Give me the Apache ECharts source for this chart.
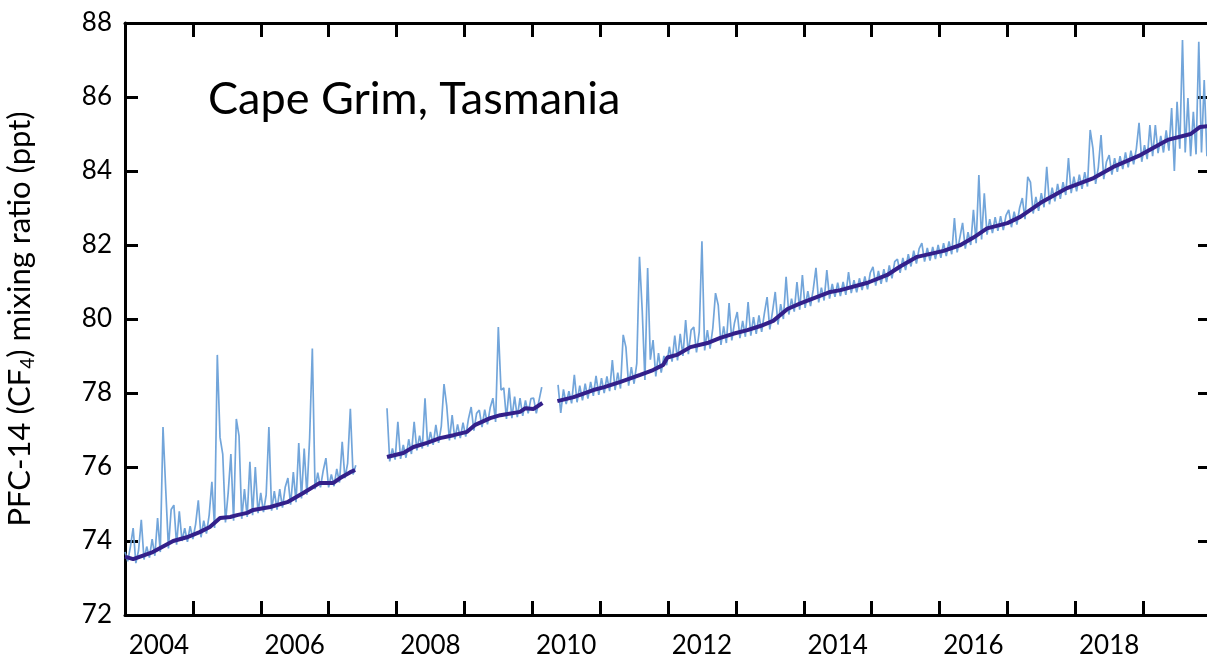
<!DOCTYPE html>
<html>
<head>
<meta charset="utf-8">
<title>PFC-14 Cape Grim</title>
<script src="https://cdn.jsdelivr.net/npm/echarts@6/dist/echarts.min.js"></script>
<style>
  html, body { margin: 0; padding: 0; background: #fff; }
  #chart { width: 1207px; height: 659px; }
</style>
</head>
<body>
<div id="chart"></div>
<script>
// x tick labels (drawn in the middle of each even year)
const yearLabels = ['2004', '2006', '2008', '2010', '2012', '2014', '2016', '2018']

// flask / in situ measurements, sampled every 0.04 yr, three runs with gaps between them
const sampleStep = 0.04
const seg1Start = 2004.00
const seg1Values = [
  73.70, 73.45, 73.85, 74.35, 73.40, 73.75, 74.57, 73.50, 73.85, 73.55,
  74.05, 73.60, 74.62, 73.70, 77.08, 75.40, 73.80, 74.85, 74.97, 73.90,
  74.80, 74.00, 74.35, 73.98, 74.40, 74.05, 74.45, 75.10, 74.10, 74.55,
  74.20, 74.70, 75.60, 74.35, 79.03, 76.80, 76.35, 74.50, 75.30, 76.35,
  74.55, 77.30, 76.84, 74.60, 75.40, 74.65, 76.14, 74.70, 76.00, 74.75,
  75.30, 74.78, 75.25, 77.08, 74.82, 75.35, 74.85, 75.40, 74.90, 75.45,
  75.70, 74.98, 75.86, 75.05, 76.65, 75.15, 76.50, 75.25, 76.78, 79.20,
  75.40, 75.85, 75.45, 75.90, 76.24, 75.45, 75.80, 75.48, 75.95, 75.58,
  76.68, 75.70, 76.10, 77.57, 75.80, 76.05
]
const seg2Start = 2007.86
const seg2Values = [
  77.59, 76.15, 76.50, 76.20, 77.22, 76.22, 76.60, 76.25, 76.75, 76.35,
  77.22, 76.45, 76.85, 76.50, 77.86, 76.55, 76.95, 76.60, 77.14, 76.65,
  77.10, 78.24, 77.65, 76.72, 77.40, 76.75, 77.15, 76.78, 77.20, 76.82,
  77.30, 77.62, 76.98, 77.45, 77.54, 77.08, 77.55, 77.15, 77.60, 77.86,
  77.22, 79.78, 78.08, 78.14, 77.30, 78.14, 77.32, 77.90, 77.35, 77.86,
  77.38, 77.80, 77.45, 77.85, 77.86, 77.45, 77.80, 78.16
]
const seg3Start = 2010.38
const seg3Values = [
  78.22, 77.46, 78.10, 77.70, 78.05, 77.72, 78.49, 77.75, 78.20, 77.80,
  78.25, 77.85, 78.30, 77.92, 78.46, 77.95, 78.40, 78.00, 78.45, 78.05,
  78.89, 78.08, 78.55, 78.12, 79.57, 79.24, 78.20, 78.70, 78.25, 78.80,
  81.68, 80.24, 78.35, 81.38, 78.90, 79.43, 78.45, 79.08, 78.55, 79.00,
  78.75, 79.25, 78.85, 79.55, 78.88, 79.60, 79.00, 79.97, 79.05, 79.70,
  79.78, 79.10, 79.65, 82.10, 79.15, 79.70, 79.20, 79.75, 80.70, 80.38,
  79.30, 79.80, 79.35, 80.43, 79.42, 79.90, 80.19, 79.48, 79.95, 79.52,
  80.46, 79.55, 80.05, 79.60, 80.10, 79.65, 80.15, 80.59, 79.72, 80.20,
  80.73, 79.85, 80.40, 80.00, 81.14, 80.12, 80.55, 80.20, 81.00, 80.25,
  81.19, 80.30, 80.75, 80.35, 80.80, 81.38, 80.45, 80.85, 80.50, 81.32,
  80.55, 80.95, 80.60, 80.98, 80.62, 81.00, 80.65, 81.27, 80.70, 81.05,
  80.72, 81.10, 80.78, 81.15, 80.80, 81.25, 81.41, 80.90, 81.30, 80.95,
  81.35, 81.00, 81.45, 81.10, 81.55, 81.62, 81.25, 81.65, 81.32, 81.75,
  81.42, 81.85, 81.50, 81.90, 82.05, 81.55, 81.92, 81.58, 81.95, 81.62,
  82.00, 81.65, 82.05, 81.70, 82.10, 81.75, 82.73, 81.80, 82.20, 82.60,
  81.90, 82.35, 82.00, 82.95, 82.05, 83.89, 82.15, 83.40, 82.28, 82.70,
  82.32, 82.75, 82.38, 82.78, 82.40, 82.80, 82.95, 82.48, 82.90, 82.55,
  83.00, 83.27, 82.70, 83.84, 83.70, 82.85, 83.30, 82.92, 83.40, 83.02,
  84.11, 83.10, 83.55, 83.18, 83.65, 83.25, 83.70, 83.35, 84.35, 83.40,
  83.85, 83.45, 83.90, 83.52, 83.97, 83.58, 85.11, 84.62, 83.65, 84.10,
  84.97, 83.78, 84.25, 84.43, 83.90, 84.35, 83.98, 84.40, 84.05, 84.50,
  84.10, 84.55, 84.18, 84.60, 85.30, 84.25, 84.70, 84.32, 85.24, 84.40,
  85.24, 84.48, 84.95, 84.50, 85.10, 84.55, 85.70, 84.00, 85.87, 84.60,
  87.54, 84.50, 85.97, 84.40, 85.60, 84.45, 87.49, 84.50, 86.46, 84.40,
  85.80
]

// smoothed baseline fit
const trendYears = [
  2004.00, 2004.12, 2004.41, 2004.71, 2004.91, 2005.10, 2005.25, 2005.40, 2005.55, 2005.65,
  2005.80, 2005.89, 2006.14, 2006.39, 2006.62, 2006.87, 2007.07, 2007.17, 2007.32, 2007.39,
  2007.62,
  2007.86, 2008.10, 2008.25, 2008.45, 2008.64, 2008.84, 2009.04, 2009.16, 2009.38, 2009.53,
  2009.82, 2009.90, 2010.02, 2010.15,
  2010.26,
  2010.37, 2010.61, 2010.90, 2011.06, 2011.30, 2011.59, 2011.78, 2011.93, 2011.99, 2012.13,
  2012.33, 2012.58, 2012.77, 2012.96, 2013.17, 2013.36, 2013.55, 2013.76, 2013.95, 2014.39,
  2014.54, 2014.94, 2015.23, 2015.42, 2015.67, 2016.06, 2016.31, 2016.50, 2016.70, 2017.00,
  2017.19, 2017.49, 2017.88, 2018.27, 2018.56, 2018.96, 2019.36, 2019.70, 2019.84, 2019.98
]
const trendValues = [
  73.58, 73.51, 73.70, 74.00, 74.10, 74.24, 74.38, 74.62, 74.65, 74.70,
  74.76, 74.84, 74.92, 75.05, 75.29, 75.57, 75.57, 75.70, 75.86, 75.92,
  '-',
  76.27, 76.38, 76.54, 76.65, 76.78, 76.86, 76.95, 77.14, 77.32, 77.40,
  77.49, 77.59, 77.57, 77.73,
  '-',
  77.78, 77.89, 78.08, 78.16, 78.30, 78.49, 78.62, 78.76, 78.96, 79.03,
  79.24, 79.35, 79.49, 79.60, 79.70, 79.81, 79.95, 80.27, 80.42, 80.73,
  80.78, 80.98, 81.19, 81.42, 81.68, 81.84, 82.00, 82.20, 82.45, 82.59,
  82.76, 83.14, 83.54, 83.81, 84.11, 84.43, 84.84, 85.00, 85.19, 85.22
]

function segPoints (start, values) {
  return values.map(function (v, i) {
    return [+(start + i * sampleStep).toFixed(3), v]
  })
}

let rawData = []
  .concat(segPoints(seg1Start, seg1Values))
  .concat([[2007.62, '-']])
  .concat(segPoints(seg2Start, seg2Values))
  .concat([[2010.26, '-']])
  .concat(segPoints(seg3Start, seg3Values))

let trendData = trendYears.map(function (y, i) {
  return [y, trendValues[i]]
})

const fontName = 'Lato, "Open Sans", sans-serif'
const axisColor = '#000'

let myChart = echarts.init(document.getElementById('chart'))
myChart.setOption({
  animation: false,
  backgroundColor: '#fff',
  title: {
    text: 'Cape Grim, Tasmania',
    left: 203,
    top: 72,
    textStyle: {
      fontFamily: fontName,
      fontSize: 45,
      fontWeight: 'normal',
      color: '#000'
    }
  },
  grid: {
    left: 125,
    right: -4,
    top: 23,
    bottom: 44,
    containLabel: false,
    outerBoundsMode: 'none'
  },
  xAxis: [
    {
      // year ticks along the bottom
      type: 'value',
      position: 'bottom',
      min: 2004,
      max: 2020,
      interval: 1,
      axisLine: { lineStyle: { color: axisColor, width: 3 } },
      axisTick: { inside: true, length: 14, lineStyle: { color: axisColor, width: 3 } },
      axisLabel: { show: false },
      splitLine: { show: false }
    },
    {
      // labels sit in the middle of the year
      type: 'value',
      position: 'bottom',
      min: 2004,
      max: 2020,
      interval: 0.5,
      axisLine: { show: false },
      axisTick: { show: false },
      splitLine: { show: false },
      axisLabel: {
        margin: 18,
        fontFamily: fontName,
        fontSize: 26,
        color: '#000',
        showMinLabel: false,
        showMaxLabel: false,
        formatter: function (value) {
          let k = (value - 2004.5) / 2
          if (Math.abs(k - Math.round(k)) > 1e-6) return ''
          return yearLabels[Math.round(k)] || ''
        }
      }
    },
    {
      type: 'value',
      position: 'top',
      min: 2004,
      max: 2020,
      interval: 1,
      axisLine: { lineStyle: { color: axisColor, width: 3 } },
      axisTick: { inside: true, length: 14, lineStyle: { color: axisColor, width: 3 } },
      axisLabel: { show: false },
      splitLine: { show: false }
    }
  ],
  yAxis: [
    {
      type: 'value',
      position: 'left',
      min: 72,
      max: 88,
      interval: 2,
      name: '{n|PFC-14 (CF}{s|4}{n|) mixing ratio (ppt)}',
      nameLocation: 'middle',
      nameGap: 87,
      nameTextStyle: {
        rich: {
          n: { fontFamily: fontName, fontSize: 31, color: '#000', lineHeight: 36 },
          s: { fontFamily: fontName, fontSize: 19, color: '#000', lineHeight: 36, padding: [16, 0, 0, 0] }
        }
      },
      axisLine: { lineStyle: { color: axisColor, width: 3 } },
      axisTick: { inside: true, length: 13, lineStyle: { color: axisColor, width: 3 } },
      axisLabel: { margin: 13, fontFamily: fontName, fontSize: 26, color: '#000' },
      splitLine: { show: false }
    },
    {
      type: 'value',
      position: 'right',
      min: 72,
      max: 88,
      interval: 2,
      axisLine: { show: true, lineStyle: { color: axisColor, width: 3 } },
      axisTick: { inside: true, length: 13, lineStyle: { color: axisColor, width: 3 } },
      axisLabel: { show: false },
      splitLine: { show: false }
    }
  ],
  series: [
    {
      name: 'measurements',
      type: 'line',
      xAxisIndex: 0,
      yAxisIndex: 0,
      data: rawData,
      showSymbol: false,
      connectNulls: false,
      lineStyle: { color: '#6aa0d8', width: 1.7, opacity: 0.95 },
      z: 2
    },
    {
      name: 'baseline',
      type: 'line',
      xAxisIndex: 0,
      yAxisIndex: 0,
      data: trendData,
      showSymbol: false,
      connectNulls: false,
      lineStyle: { color: '#33208a', width: 4 },
      z: 3
    }
  ]
})
window.addEventListener('resize', function () {
  myChart.resize()
})
</script>
</body>
</html>
